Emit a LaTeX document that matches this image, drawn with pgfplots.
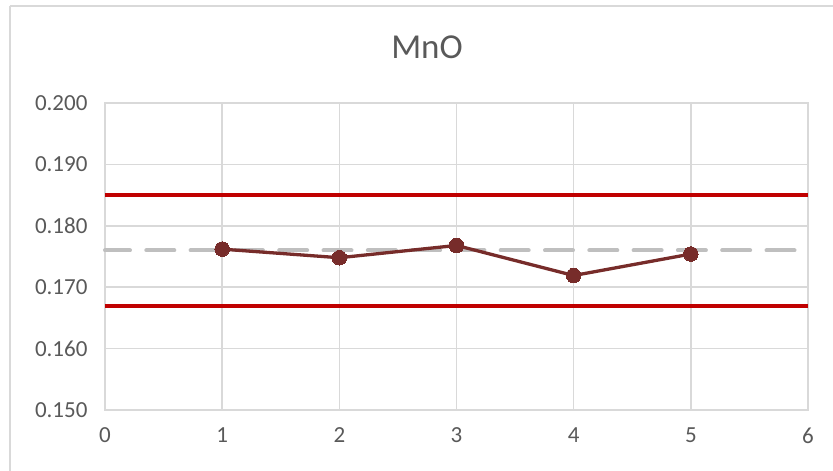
\documentclass[border=0pt]{standalone}
\usepackage{pgfplots}
\pgfplotsset{compat=1.18}
\usepackage{fontspec}
\setmainfont{Carlito}
\definecolor{gridgray}{HTML}{D9D9D9}
\definecolor{labelgray}{HTML}{595959}
\definecolor{limitred}{HTML}{C00000}
\definecolor{refgray}{HTML}{BFBFBF}
\definecolor{datamaroon}{HTML}{772C2A}

\begin{document}
\begin{tikzpicture}
\begin{axis}[
  at={(0pt,0pt)}, anchor=south west,
  scale only axis, width=703pt, height=307pt,
  xmin=0, xmax=6, ymin=0.150, ymax=0.200,
  xtick={0,1,...,6},
  ytick={0.150,0.160,0.170,0.180,0.190,0.200},
  grid=major,
  major grid style={gridgray, line width=1.5pt},
  axis line style={gridgray, line width=1.5pt},
  major tick length=0pt,
  tick label style={font=\fontsize{23}{28}\selectfont, text=labelgray},
  /pgf/number format/assume math mode=true,
  yticklabel style={/pgf/number format/fixed, /pgf/number format/fixed zerofill, /pgf/number format/precision=3},
  xticklabel style={yshift=-14pt},
  yticklabel style={xshift=-14pt},
  clip=false,
]
% reference value
\addplot[refgray, line width=4pt, line cap=round, dash pattern=on 28pt off 16.3pt, dash phase=3pt] coordinates {(0,0.176) (6,0.176)};
% control limits
\addplot[limitred, line width=4pt] coordinates {(0,0.185) (6,0.185)};
\addplot[limitred, line width=4pt] coordinates {(0,0.167) (6,0.167)};
% measured values
\addplot[datamaroon, line width=3.3pt, mark=*, mark size=7.3pt, mark options={fill=datamaroon, draw=datamaroon, line width=0pt}]
  coordinates {(1,0.1762) (2,0.1748) (3,0.1768) (4,0.1719) (5,0.1754)};
\end{axis}
% title and chart area frame, positioned from the plot area's lower left corner
\node[font=\fontsize{35}{40}\selectfont, text=labelgray] at (322pt,363pt) {MnO};
\draw[gridgray, line width=1.5pt] (-95pt,404pt) -- (800pt,404pt);
\draw[gridgray, line width=1.5pt] (-95pt,404pt) -- (-95pt,-80pt);
\pgfresetboundingbox
\useasboundingbox (-105pt,-61pt) rectangle (728pt,410pt);
\end{tikzpicture}
\end{document}
